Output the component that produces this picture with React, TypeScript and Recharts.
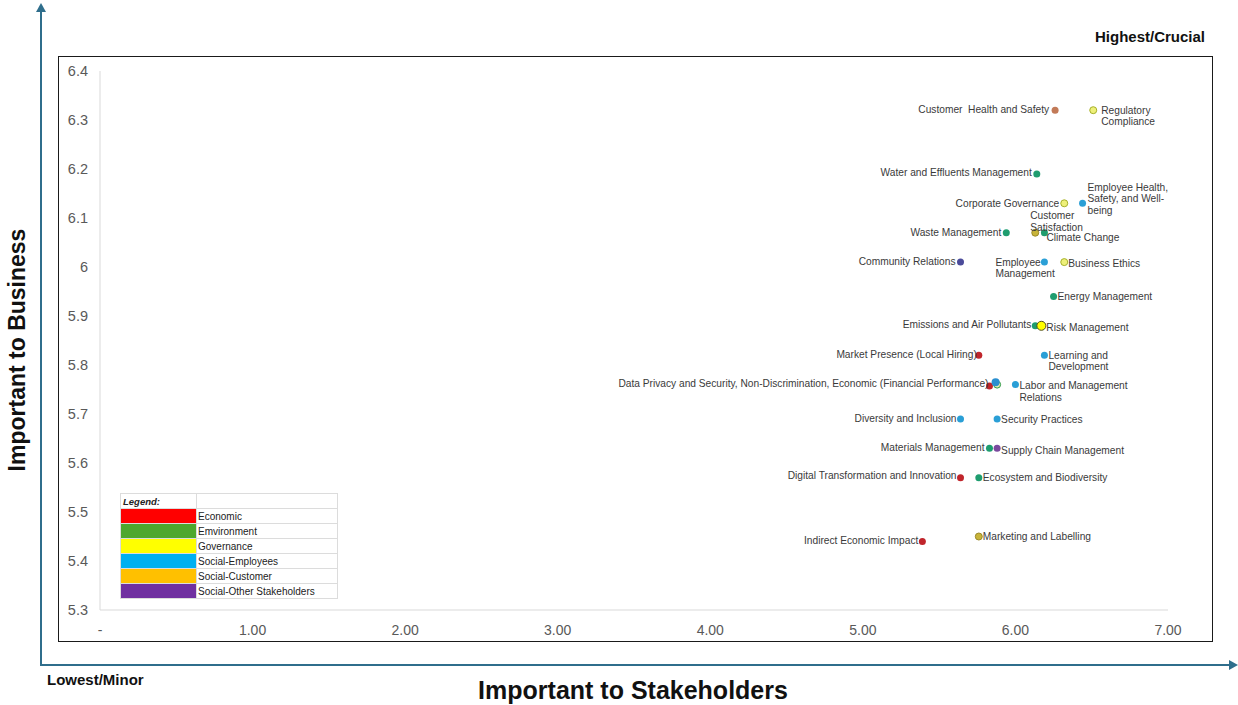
import React from 'react';
import { ScatterChart, Scatter, XAxis, YAxis } from 'recharts';

// ---------- data ----------
const economic = [
  { name: 'Market Presence (Local Hiring)', x: 5.76, y: 5.82 },
  { name: 'Economic (Financial Performance)', x: 5.83, y: 5.757 },
  { name: 'Digital Transformation and Innovation', x: 5.64, y: 5.57 },
  { name: 'Indirect Economic Impact', x: 5.39, y: 5.44 },
];
const environment = [
  { name: 'Water and Effluents Management', x: 6.14, y: 6.19 },
  { name: 'Climate Change', x: 6.19, y: 6.07 },
  { name: 'Waste Management', x: 5.94, y: 6.07 },
  { name: 'Energy Management', x: 6.25, y: 5.94 },
  { name: 'Emissions and Air Pollutants', x: 6.13, y: 5.88 },
  { name: 'Materials Management', x: 5.83, y: 5.63 },
  { name: 'Ecosystem and Biodiversity', x: 5.76, y: 5.57 },
];
const governance = [
  { name: 'Regulatory Compliance', x: 6.51, y: 6.32 },
  { name: 'Corporate Governance', x: 6.32, y: 6.13 },
  { name: 'Business Ethics', x: 6.32, y: 6.01 },
  { name: 'Risk Management', x: 6.17, y: 5.88 },
];
const socialEmployees = [
  { name: 'Employee Health, Safety, and Well-being', x: 6.44, y: 6.13 },
  { name: 'Employee Management', x: 6.19, y: 6.01 },
  { name: 'Learning and Development', x: 6.19, y: 5.82 },
  { name: 'Non-Discrimination', x: 5.88, y: 5.76 },
  { name: 'Labor and Management Relations', x: 6.0, y: 5.76 },
  { name: 'Diversity and Inclusion', x: 5.64, y: 5.69 },
  { name: 'Security Practices', x: 5.88, y: 5.69 },
];
const socialCustomer = [
  { name: 'Customer Health and Safety', x: 6.26, y: 6.32 },
  { name: 'Customer Satisfaction', x: 6.13, y: 6.07 },
  { name: 'Data Privacy and Security', x: 5.87, y: 5.765 },
  { name: 'Marketing and Labelling', x: 5.76, y: 5.45 },
];
const socialOther = [
  { name: 'Community Relations', x: 5.64, y: 6.01 },
  { name: 'Supply Chain Management', x: 5.88, y: 5.63 },
];

const xTicks = [0, 1, 2, 3, 4, 5, 6, 7];
const yTicks = [5.3, 5.4, 5.5, 5.6, 5.7, 5.8, 5.9, 6.0, 6.1, 6.2, 6.3, 6.4];

const legendItems = [
  { label: 'Economic', color: '#ff0000' },
  { label: 'Emvironment', color: '#4ea72e' },
  { label: 'Governance', color: '#ffff00' },
  { label: 'Social-Employees', color: '#00b0f0' },
  { label: 'Social-Customer', color: '#ffc000' },
  { label: 'Social-Other Stakeholders', color: '#7030a0' },
];

// ---------- styling (kept apart from data) ----------
type Lab = { anchor: 'start' | 'end'; dx: number; dy: number; lines: string[] };
const L = (lines: string[], dx = -5, dy = 0): Lab => ({ anchor: 'end', dx, dy, lines });
const R = (lines: string[], dx = 5, dy = 0): Lab => ({ anchor: 'start', dx, dy, lines });

const labelPlacement: Record<string, Lab> = {
  'Customer Health and Safety': L(['Customer  Health and Safety'], -6, -1),
  'Regulatory Compliance': R(['Regulatory', 'Compliance'], 8, 0),
  'Water and Effluents Management': L(['Water and Effluents Management'], -5, -1),
  'Corporate Governance': L(['Corporate Governance'], -5, 0),
  'Employee Health, Safety, and Well-being': R(['Employee Health,', 'Safety, and Well-', 'being'], 5, -16),
  'Customer Satisfaction': R(['Customer', 'Satisfaction'], -5, -17),
  'Climate Change': R(['Climate Change'], 2, 5),
  'Waste Management': L(['Waste Management'], -5, 0),
  'Community Relations': L(['Community Relations'], -5, -1),
  'Employee Management': R(['Employee', 'Management'], -49, 0),
  'Business Ethics': R(['Business Ethics'], 4, 1),
  'Energy Management': R(['Energy Management'], 4, 0),
  'Emissions and Air Pollutants': L(['Emissions and Air Pollutants'], -4, -1),
  'Risk Management': R(['Risk Management'], 5, 2),
  'Market Presence (Local Hiring)': L(['Market Presence (Local Hiring)'], -2, -1),
  'Learning and Development': R(['Learning and', 'Development'], 4, 0),
  'Economic (Financial Performance)': L(
    ['Data Privacy and Security, Non-Discrimination, Economic (Financial Performance)'],
    -1,
    -3
  ),
  'Labor and Management Relations': R(['Labor and Management', 'Relations'], 4, 1),
  'Diversity and Inclusion': L(['Diversity and Inclusion'], -4, 0),
  'Security Practices': R(['Security Practices'], 4, 1),
  'Materials Management': L(['Materials Management'], -5, -1),
  'Supply Chain Management': R(['Supply Chain Management'], 4, 2),
  'Digital Transformation and Innovation': L(['Digital Transformation and Innovation'], -4, -2),
  'Ecosystem and Biodiversity': R(['Ecosystem and Biodiversity'], 4, 0),
  'Indirect Economic Impact': L(['Indirect Economic Impact'], -4, -1),
  'Marketing and Labelling': R(['Marketing and Labelling'], 4, 0),
};

type DotStyle = { fill?: string; stroke?: string; r?: number };
const dotStyle: Record<string, DotStyle> = {
  'Regulatory Compliance': { fill: '#eef07a', stroke: '#a6b02a' },
  'Corporate Governance': { fill: '#eef07a', stroke: '#a6b02a' },
  'Business Ethics': { fill: '#eef07a', stroke: '#a6b02a' },
  'Risk Management': { fill: '#ffff00', stroke: '#505020', r: 4.5 },
  'Customer Health and Safety': { fill: '#c27a58' },
  'Customer Satisfaction': { fill: '#c8b43a', stroke: '#9a8a2a' },
  'Marketing and Labelling': { fill: '#c8b43a', stroke: '#9a8a2a' },
  'Data Privacy and Security': { fill: '#2a8fd0', r: 4 },
  'Non-Discrimination': { fill: '#e6ecb0', stroke: '#2e9a4a', r: 3.5 },
  'Community Relations': { fill: '#4b4b9a' },
  'Supply Chain Management': { fill: '#7a4a9e' },
};

const LABEL_FONT = '"Liberation Sans", Arial, sans-serif';

const makeShape = (defaultFill: string) => (props: any) => {
  const { cx, cy, payload } = props;
  if (cx == null || cy == null) return <g />;
  const st = dotStyle[payload.name] || {};
  const lab = labelPlacement[payload.name];
  return (
    <g>
      <circle
        cx={cx}
        cy={cy}
        r={st.r ?? 3.5}
        fill={st.fill ?? defaultFill}
        stroke={st.stroke ?? 'none'}
        strokeWidth={1}
      />
      {lab && (
        <text
          x={cx + lab.dx}
          y={cy + lab.dy + 3.5}
          textAnchor={lab.anchor}
          fontSize={10.2}
          fill="#3a3a3a"
          fontFamily={LABEL_FONT}
          style={{ whiteSpace: 'pre' }}
        >
          {lab.lines.map((l, i) => (
            <tspan key={i} x={cx + lab.dx} dy={i === 0 ? 0 : 11.5}>
              {l}
            </tspan>
          ))}
        </text>
      )}
    </g>
  );
};

const ARROW = '#2f6e8c';

export default function App() {
  return (
    <div
      style={{
        position: 'absolute',
        left: 0,
        top: 0,
        width: 1238,
        height: 705,
        background: '#ffffff',
        overflow: 'hidden',
        fontFamily: LABEL_FONT,
      }}
    >
      {/* outer arrows */}
      <svg width={1238} height={705} style={{ position: 'absolute', left: 0, top: 0 }}>
        <line x1={41} y1={665} x2={41} y2={10} stroke={ARROW} strokeWidth={2} />
        <polygon points="36,12 46,12 41,3" fill={ARROW} />
        <line x1={40} y1={665} x2={1230} y2={665} stroke={ARROW} strokeWidth={2} />
        <polygon points="1229,660 1229,670 1238,665" fill={ARROW} />
      </svg>

      {/* chart frame */}
      <div
        style={{
          position: 'absolute',
          left: 58,
          top: 56,
          width: 1153,
          height: 584,
          border: '1px solid #1a1a1a',
          background: '#fff',
        }}
      />

      <div style={{ position: 'absolute', left: 0, top: 0 }}>
        <ScatterChart
          width={1238}
          height={705}
          margin={{ top: 71, right: 70, bottom: 65, left: 60 }}
        >
          <XAxis
            type="number"
            dataKey="x"
            domain={[0, 7]}
            ticks={xTicks}
            tickFormatter={(v: number) => (v === 0 ? '-' : v.toFixed(2))}
            axisLine={{ stroke: '#d9d9d9' }}
            tickLine={false}
            tickSize={0}
            tickMargin={15}
            height={30}
            tick={{ fill: '#595959', fontSize: 14, fontFamily: '"Liberation Sans Narrow", "Liberation Sans", Arial' }}
          />
          <YAxis
            type="number"
            dataKey="y"
            domain={[5.3, 6.4]}
            ticks={yTicks}
            tickFormatter={(v: number) => (Math.abs(v - 6) < 1e-9 ? '6' : v.toFixed(1))}
            axisLine={{ stroke: '#d9d9d9' }}
            tickLine={false}
            tickSize={0}
            tickMargin={12}
            width={40}
            tick={{ fill: '#595959', fontSize: 14.5, fontFamily: LABEL_FONT }}
          />
          <Scatter name="Economic" data={economic} fill="#c0252b" shape={makeShape('#c0252b')} isAnimationActive={false} />
          <Scatter name="Environment" data={environment} fill="#1f9d6f" shape={makeShape('#1f9d6f')} isAnimationActive={false} />
          <Scatter name="Social-Employees" data={socialEmployees} fill="#2a9fd6" shape={makeShape('#2a9fd6')} isAnimationActive={false} />
          <Scatter name="Social-Customer" data={socialCustomer} fill="#c8b43a" shape={makeShape('#c8b43a')} isAnimationActive={false} />
          <Scatter name="Social-Other Stakeholders" data={socialOther} fill="#5a4a9a" shape={makeShape('#5a4a9a')} isAnimationActive={false} />
          <Scatter name="Governance" data={governance} fill="#eef07a" shape={makeShape('#eef07a')} isAnimationActive={false} />
        </ScatterChart>
      </div>

      {/* legend table */}
      <table
        style={{
          position: 'absolute',
          left: 120,
          top: 493,
          width: 217,
          tableLayout: 'fixed',
          borderCollapse: 'collapse',
          fontSize: 10,
          fontFamily: LABEL_FONT,
          color: '#222',
          background: '#fff',
        }}
      >
        <colgroup>
          <col style={{ width: 76 }} />
          <col style={{ width: 141 }} />
        </colgroup>
        <tbody>
          <tr style={{ height: 15 }}>
            <td style={{ border: '1px solid #dcdcdc', padding: '0 2px', fontWeight: 'bold', fontStyle: 'italic', fontSize: 9.5 }}>
              Legend:
            </td>
            <td style={{ border: '1px solid #dcdcdc', padding: 0 }} />
          </tr>
          {legendItems.map((it) => (
            <tr key={it.label} style={{ height: 15 }}>
              <td style={{ border: '1px solid #dcdcdc', background: it.color, padding: 0 }} />
              <td style={{ border: '1px solid #dcdcdc', padding: '0 1px', lineHeight: '13px', whiteSpace: 'nowrap' }}>{it.label}</td>
            </tr>
          ))}
        </tbody>
      </table>

      {/* titles */}
      <div
        style={{
          position: 'absolute',
          left: 17,
          top: 350,
          transform: 'translate(-50%, -50%) rotate(-90deg)',
          whiteSpace: 'nowrap',
          fontWeight: 'bold',
          fontSize: 23,
          color: '#111',
        }}
      >
        Important to Business
      </div>
      <div
        style={{
          position: 'absolute',
          left: 633,
          top: 690,
          transform: 'translate(-50%, -50%)',
          whiteSpace: 'nowrap',
          fontWeight: 'bold',
          fontSize: 25,
          color: '#111',
        }}
      >
        Important to Stakeholders
      </div>
      <div style={{ position: 'absolute', left: 47, top: 671, fontWeight: 'bold', fontSize: 15, color: '#111', whiteSpace: 'nowrap' }}>
        Lowest/Minor
      </div>
      <div style={{ position: 'absolute', left: 1095, top: 28, fontWeight: 'bold', fontSize: 15, color: '#111', whiteSpace: 'nowrap' }}>
        Highest/Crucial
      </div>
    </div>
  );
}
